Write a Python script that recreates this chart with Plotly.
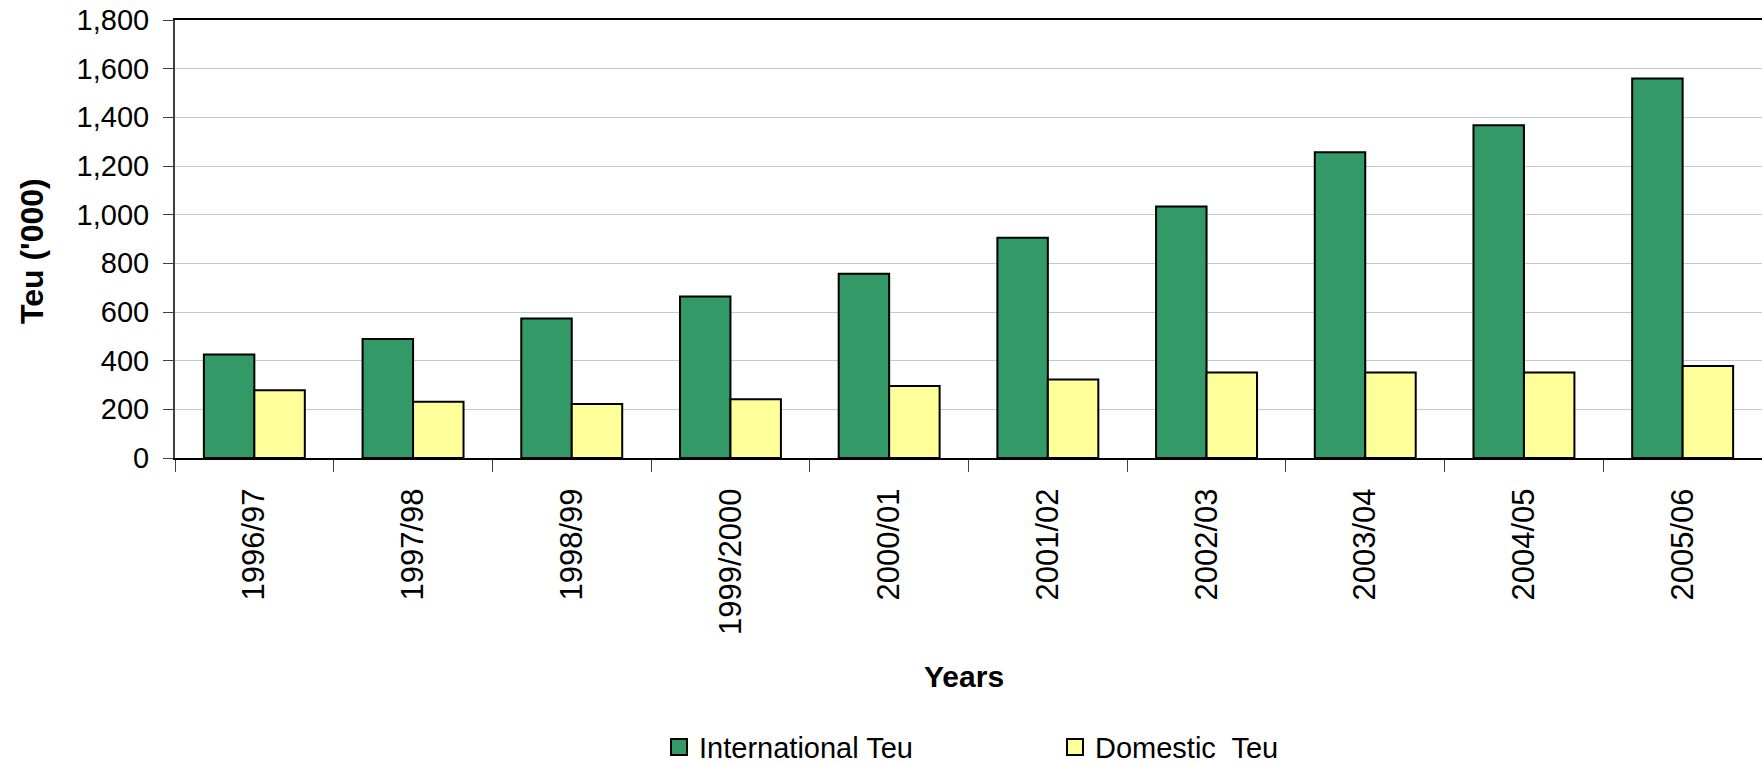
import plotly.graph_objects as go

years = ["1996/97", "1997/98", "1998/99", "1999/2000", "2000/01",
         "2001/02", "2002/03", "2003/04", "2004/05", "2005/06"]
international_teu = [425, 489, 573, 664, 757, 905, 1034, 1256, 1367, 1560]
domestic_teu = [278, 231, 222, 241, 296, 323, 351, 351, 351, 378]
series_names = ["International Teu", "Domestic  Teu"]
series_colors = ["#339966", "#FFFF99"]
y_ticks = [0, 200, 400, 600, 800, 1000, 1200, 1400, 1600, 1800]

FONT = "Liberation Sans, Arial, sans-serif"

fig = go.Figure()
for name, vals, col in zip(series_names, [international_teu, domestic_teu], series_colors):
    fig.add_trace(go.Bar(
        x=years, y=vals, name=name, showlegend=False,
        marker=dict(color=col, line=dict(color="black", width=2)),
    ))

# legend proxies (larger square symbols)
for i, (name, col) in enumerate(zip(series_names, series_colors)):
    fig.add_trace(go.Scatter(
        x=[years[0]], y=[None], mode="markers", name=name,
        marker=dict(symbol="square", size=16, color=col, line=dict(color="black", width=2)),
        legend="legend" if i == 0 else "legend2", showlegend=True,
    ))

fig.update_layout(
    width=1762, height=765,
    margin=dict(l=175, r=0, t=20, b=307, autoexpand=False),
    paper_bgcolor="white", plot_bgcolor="white",
    barmode="group", bargap=0.364, bargroupgap=0,
    font=dict(family=FONT, size=30, color="black"),
    xaxis=dict(
        type="category", range=[-0.5, len(years) - 0.5], automargin=False,
        showline=True, linecolor="black", linewidth=2, mirror=True,
        ticks="outside", tickson="boundaries", ticklen=12, tickcolor="#404040", tickwidth=1,
        tickangle=-90, tickfont=dict(size=31), ticklabelstandoff=16,
        showgrid=False,
    ),
    yaxis=dict(
        range=[0, 1800], tickvals=y_ticks, tickformat=",", automargin=False,
        showline=True, linecolor="#404040", linewidth=2,
        ticks="outside", ticklen=10, tickcolor="#404040", tickwidth=1,
        tickfont=dict(size=29), ticklabelstandoff=8,
        showgrid=True, gridcolor="#c8c8c8", gridwidth=1, zeroline=False,
    ),
    legend=dict(orientation="h", x=0.305, xanchor="left", y=-0.66, yanchor="middle",
                font=dict(size=29), bgcolor="rgba(0,0,0,0)"),
    legend2=dict(orientation="h", x=0.5545, xanchor="left", y=-0.66, yanchor="middle",
                 font=dict(size=29), bgcolor="rgba(0,0,0,0)"),
    annotations=[
        dict(text="<b>Teu ('000)</b>", xref="paper", yref="paper", x=0, y=0.5,
             xanchor="center", yanchor="middle", xshift=-143, yshift=-12,
             textangle=-90, showarrow=False, font=dict(size=32)),
        dict(text="<b>Years</b>", xref="paper", yref="paper", x=0.497, y=0,
             xanchor="center", yanchor="middle", yshift=-218,
             showarrow=False, font=dict(size=30)),
    ],
)

fig.write_html("out.html")
